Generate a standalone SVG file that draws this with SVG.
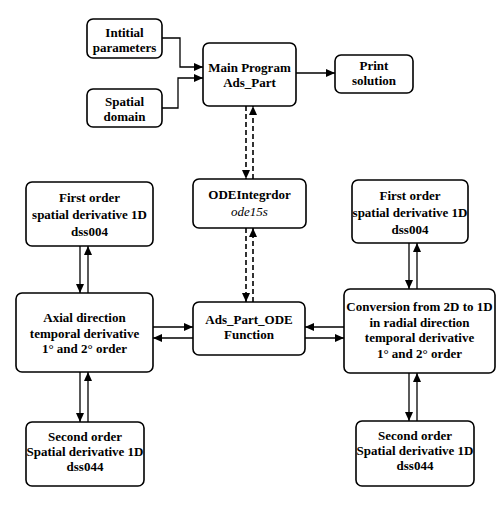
<svg xmlns="http://www.w3.org/2000/svg" width="500" height="511" viewBox="0 0 500 511">
<style>
.box{fill:#fff;stroke:#000;stroke-width:1.6}
text{font-family:'Liberation Serif','DejaVu Serif','Times New Roman',serif;font-weight:bold;font-size:13px;text-anchor:middle;fill:#000}
.it{font-weight:normal;font-style:italic}
.c{fill:none;stroke:#000;stroke-width:1.3}
.d{stroke-dasharray:5,3;stroke-width:1.6}
</style>
<defs>
<marker id="ah" markerUnits="userSpaceOnUse" markerWidth="10" markerHeight="8" refX="9" refY="4" orient="auto">
<path d="M0,0 L9,4 L0,8 Z" fill="#000"/>
</marker>
</defs>
<rect width="500" height="511" fill="#fff"/>
<g id="connectors">
<path class="c" d="M162,38 H180 V67 H203" marker-end="url(#ah)"/>
<path class="c" d="M162,108 H178 V78 H203" marker-end="url(#ah)"/>
<path class="c" d="M296,73 H335" marker-end="url(#ah)"/>
<path class="c d" d="M246,106 V179" marker-end="url(#ah)"/>
<path class="c d" d="M253,179 V106" marker-end="url(#ah)"/>
<path class="c d" d="M246,228 V302" marker-end="url(#ah)"/>
<path class="c d" d="M253,302 V228" marker-end="url(#ah)"/>
<path class="c" d="M80,246 V293" marker-end="url(#ah)"/>
<path class="c" d="M88,293 V246" marker-end="url(#ah)"/>
<path class="c" d="M80,372 V422" marker-end="url(#ah)"/>
<path class="c" d="M88,422 V372" marker-end="url(#ah)"/>
<path class="c" d="M153,327 H193" marker-end="url(#ah)"/>
<path class="c" d="M193,338 H153" marker-end="url(#ah)"/>
<path class="c" d="M344,327 H305" marker-end="url(#ah)"/>
<path class="c" d="M305,338 H344" marker-end="url(#ah)"/>
<path class="c" d="M409,243 V289" marker-end="url(#ah)"/>
<path class="c" d="M417,289 V243" marker-end="url(#ah)"/>
<path class="c" d="M409,373 V421" marker-end="url(#ah)"/>
<path class="c" d="M417,421 V373" marker-end="url(#ah)"/>
</g>
<g id="initial">
<rect class="box" x="87" y="19" width="75" height="39" rx="6"/>
<text x="124.5" y="37">Intitial</text>
<text x="124.5" y="52">parameters</text>
</g>
<g id="spatial">
<rect class="box" x="87" y="89" width="75" height="38" rx="6"/>
<text x="124.5" y="106">Spatial</text>
<text x="124.5" y="121">domain</text>
</g>
<g id="main">
<rect class="box" x="203" y="43" width="93" height="63" rx="6"/>
<text x="249.5" y="72">Main Program</text>
<text x="249.5" y="87">Ads_Part</text>
</g>
<g id="print">
<rect class="box" x="335" y="55" width="78" height="38" rx="6"/>
<text x="374" y="70">Print</text>
<text x="374" y="85">solution</text>
</g>
<g id="odeint">
<rect class="box" x="193" y="179" width="113" height="49" rx="6"/>
<text x="249.5" y="199">ODEIntegrdor</text>
<text class="it" x="249.5" y="216">ode15s</text>
</g>
<g id="adsode">
<rect class="box" x="193" y="302" width="112" height="53" rx="6"/>
<text x="249" y="324">Ads_Part_ODE</text>
<text x="249" y="339">Function</text>
</g>
<g id="first-left">
<rect class="box" x="26" y="182" width="127" height="64" rx="6"/>
<text x="89.5" y="202">First order</text>
<text x="89.5" y="219">spatial derivative 1D</text>
<text x="89.5" y="236">dss004</text>
</g>
<g id="axial">
<rect class="box" x="16" y="293" width="137" height="79" rx="6"/>
<text x="84.5" y="322">Axial direction</text>
<text x="84.5" y="338">temporal derivative</text>
<text x="84.5" y="353">1° and 2° order</text>
</g>
<g id="second-left">
<rect class="box" x="26" y="422" width="118" height="64" rx="6"/>
<text x="85" y="441">Second order</text>
<text x="85" y="456">Spatial derivative 1D</text>
<text x="85" y="471">dss044</text>
</g>
<g id="first-right">
<rect class="box" x="352" y="180" width="116" height="63" rx="6"/>
<text x="410" y="200">First order</text>
<text x="410" y="217">spatial derivative 1D</text>
<text x="410" y="234">dss004</text>
</g>
<g id="conversion">
<rect class="box" x="344" y="289" width="151" height="84" rx="6"/>
<text x="419.5" y="311">Conversion from 2D to 1D</text>
<text x="419.5" y="327">in radial direction</text>
<text x="419.5" y="342">temporal derivative</text>
<text x="419.5" y="358">1° and 2° order</text>
</g>
<g id="second-right">
<rect class="box" x="356" y="421" width="118" height="65" rx="6"/>
<text x="415" y="440">Second order</text>
<text x="415" y="455">Spatial derivative 1D</text>
<text x="415" y="470">dss044</text>
</g>
</svg>
